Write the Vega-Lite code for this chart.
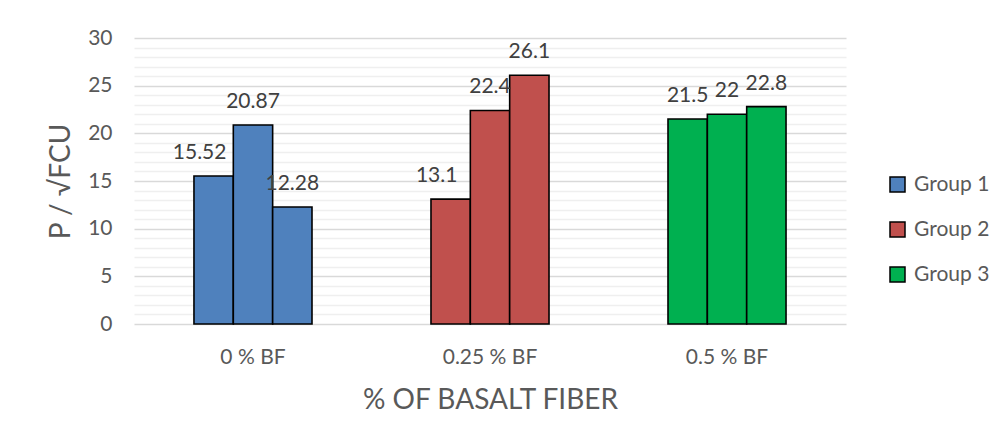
{
  "$schema": "https://vega.github.io/schema/vega-lite/v6.json",
  "width": 712,
  "height": 286,
  "autosize": {"type": "none"},
  "padding": {"left": 134, "top": 38, "right": 155, "bottom": 117},
  "background": "white",
  "config": {
    "view": {"stroke": null},
    "font": "Lato",
    "axis": {"labelFont": "Lato", "titleFont": "Lato", "labelColor": "#595959", "titleColor": "#595959", "titleFontWeight": "normal"},
    "legend": {"labelFont": "Lato"}
  },
  "data": {
    "values": [
      {"fiber": "0 % BF", "group": "Group 1", "specimen": 1, "value": 15.52},
      {"fiber": "0 % BF", "group": "Group 1", "specimen": 2, "value": 20.87},
      {"fiber": "0 % BF", "group": "Group 1", "specimen": 3, "value": 12.28},
      {"fiber": "0.25 % BF", "group": "Group 2", "specimen": 1, "value": 13.1},
      {"fiber": "0.25 % BF", "group": "Group 2", "specimen": 2, "value": 22.4},
      {"fiber": "0.25 % BF", "group": "Group 2", "specimen": 3, "value": 26.1},
      {"fiber": "0.5 % BF", "group": "Group 3", "specimen": 1, "value": 21.5},
      {"fiber": "0.5 % BF", "group": "Group 3", "specimen": 2, "value": 22},
      {"fiber": "0.5 % BF", "group": "Group 3", "specimen": 3, "value": 22.8}
    ]
  },
  "encoding": {
    "x": {
      "field": "fiber",
      "type": "nominal",
      "sort": ["0 % BF", "0.25 % BF", "0.5 % BF"],
      "scale": {"paddingInner": 0.502, "paddingOuter": 0.253},
      "axis": {
        "title": "% OF BASALT FIBER",
        "titleFontSize": 28,
        "titleX": 356,
        "titleY": 84,
        "titleAlign": "center",
        "titleBaseline": "alphabetic",
        "labelFontSize": 21,
        "labelAngle": 0,
        "labelBaseline": "alphabetic",
        "labelPadding": 39,
        "ticks": false,
        "tickSize": 0,
        "domain": false,
        "grid": false
      }
    },
    "xOffset": {
      "field": "specimen",
      "type": "ordinal",
      "scale": {"paddingInner": 0, "paddingOuter": 0}
    },
    "y": {
      "field": "value",
      "type": "quantitative",
      "scale": {"domain": [0, 30], "nice": false}
    }
  },
  "layer": [
    {
      "mark": {"type": "bar", "stroke": "black", "strokeWidth": 1.6},
      "encoding": {
        "y": {
          "field": "value",
          "type": "quantitative",
          "axis": {
            "orient": "left",
            "title": "P / √FCU",
            "titleFontSize": 28,
            "titleAngle": 270,
            "titleX": -73,
            "titleY": 143,
            "titleAlign": "center",
            "titleBaseline": "middle",
            "values": [0, 5, 10, 15, 20, 25, 30],
            "labelFontSize": 21,
            "labelPadding": 22,
            "labelBaseline": "middle",
            "ticks": false,
            "tickSize": 0,
            "domain": false,
            "grid": true,
            "gridColor": "#d9d9d9",
            "gridWidth": 1.5
          }
        },
        "color": {
          "field": "group",
          "type": "nominal",
          "scale": {"domain": ["Group 1", "Group 2", "Group 3"], "range": ["#4F81BD", "#C0504D", "#00B050"]},
          "legend": {
            "title": null,
            "orient": "none",
            "legendX": 753,
            "legendY": 136,
            "padding": 0,
            "symbolType": "square",
            "symbolSize": 225,
            "symbolStrokeColor": "black",
            "symbolStrokeWidth": 1.5,
            "labelFontSize": 21,
            "labelColor": "#595959",
            "labelOffset": 6,
            "rowPadding": 23
          }
        }
      }
    },
    {
      "transform": [{"filter": "datum.specimen != 1 || datum.group == 'Group 3'"}],
      "mark": {"type": "text", "baseline": "alphabetic", "dy": -17, "fontSize": 21, "color": "#404040", "font": "Lato"},
      "encoding": {
        "y": {
          "field": "value",
          "type": "quantitative",
          "axis": {
            "orient": "left",
            "title": null,
            "labels": false,
            "ticks": false,
            "domain": false,
            "values": [1, 2, 3, 4, 6, 7, 8, 9, 11, 12, 13, 14, 16, 17, 18, 19, 21, 22, 23, 24, 26, 27, 28, 29],
            "grid": true,
            "gridColor": "#efefef",
            "gridWidth": 1.5
          }
        },
        "text": {"field": "value", "type": "quantitative"}
      }
    },
    {
      "transform": [{"filter": "datum.specimen == 1 && datum.group != 'Group 3'"}],
      "mark": {"type": "text", "baseline": "alphabetic", "dy": -17, "dx": -14, "fontSize": 21, "color": "#404040", "font": "Lato"},
      "encoding": {
        "y": {"field": "value", "type": "quantitative", "axis": null},
        "text": {"field": "value", "type": "quantitative"}
      }
    }
  ],
  "resolve": {"axis": {"y": "independent"}}
}
